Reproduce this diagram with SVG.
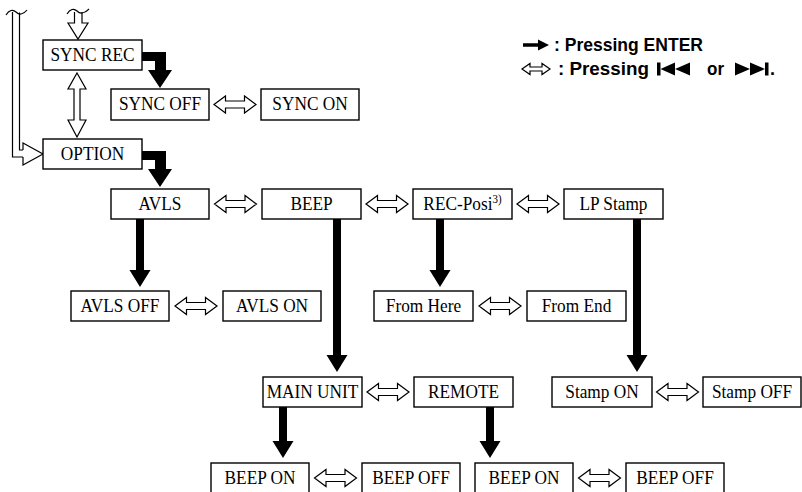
<svg xmlns="http://www.w3.org/2000/svg" xmlns:xlink="http://www.w3.org/1999/xlink" width="802" height="492" viewBox="0 0 802 492">
<style>
.box{fill:#fff;stroke:#000;stroke-width:1.4}
.lbl{font-family:"Liberation Serif","Times New Roman",serif;font-size:19px;text-anchor:middle;fill:#000}
.hol{fill:#fff;stroke:#000;stroke-width:1.2;stroke-linejoin:miter}
.line{fill:none;stroke:#000;stroke-width:1.2}
.blk{fill:#000;stroke:none}
.leg{font-family:"Liberation Sans",Arial,sans-serif;font-weight:bold;font-size:18px;fill:#000}
</style>
<defs>
<path id="dbl" class="hol" d="M-21,0 L-9.5,-8.5 V-3.5 H9.5 V-8.5 L21,0 L9.5,8.5 V3.5 H-9.5 V8.5 Z"/>
</defs>
<rect width="802" height="492" fill="#fff"/>

<g id="legend">
<polygon class="blk" points="523,43.3 538,43.3 538,39.5 549,45 538,50.5 538,46.7 523,46.7"/>
<text class="leg" x="554" y="51" textLength="149" lengthAdjust="spacingAndGlyphs">: Pressing ENTER</text>
<path class="hol" d="M522,69 L530,63.5 V67 H542 V63.5 L550,69 L542,74.5 V71 H530 V74.5 Z"/>
<text class="leg" x="558" y="75" textLength="91" lengthAdjust="spacingAndGlyphs">: Pressing</text>
<rect class="blk" x="657" y="62.5" width="3.5" height="13"/>
<polygon class="blk" points="660.5,69 675,62.5 675,75.5"/>
<polygon class="blk" points="675,69 690,62.5 690,75.5"/>
<text class="leg" x="707" y="75" textLength="17" lengthAdjust="spacingAndGlyphs">or</text>
<polygon class="blk" points="735,62.5 750,69 735,75.5"/>
<polygon class="blk" points="750,62.5 765,69 750,75.5"/>
<rect class="blk" x="765" y="62.5" width="3.5" height="13"/>
<text class="leg" x="770" y="75">.</text>
</g>

<g id="connectors">
<path class="line" d="M12.5,12 V157 H23"/>
<path class="line" d="M19.5,12.5 V150 H23"/>
<path class="line" d="M23,150 V143 L43,154 L23,165 V157"/>
<path class="line" d="M6,15 C9,10 13,9 16,12 C19,15 23,15 27,10"/>
<path class="hol" d="M74.5,12 V23 H68 L78,39 L88,23 H82 V12"/>
<path class="line" d="M67,14 C70,9 74,8 77,11 C80,14 84,14 89,9"/>
<polygon class="hol" points="77,73 86,89 80,89 80,120 86,120 77,137 68,120 74,120 74,89 68,89"/>
<polygon class="blk" points="142,52 166,52 166,70 172,70 160,88 148,70 155,70 155,61 142,61"/>
<polygon class="blk" points="142,151 166,151 166,169 172,169 160,187 148,169 155,169 155,160 142,160"/>
<polygon class="blk" points="136,219 144,219 144,270 150.5,270 140,287 129.5,270 136,270"/>
<polygon class="blk" points="436,219 444,219 444,270 450.5,270 440,287 429.5,270 436,270"/>
<polygon class="blk" points="333,219 341,219 341,355 347.5,355 337,372 326.5,355 333,355"/>
<polygon class="blk" points="633,219 641,219 641,355 647.5,355 637,372 626.5,355 633,355"/>
<polygon class="blk" points="279,407 287,407 287,441 293.5,441 283,458 272.5,441 279,441"/>
<polygon class="blk" points="486,407 494,407 494,441 500.5,441 490,458 479.5,441 486,441"/>
<use xlink:href="#dbl" x="235" y="104.5"/>
<use xlink:href="#dbl" x="235.5" y="204"/>
<use xlink:href="#dbl" x="387" y="204"/>
<use xlink:href="#dbl" x="538" y="204"/>
<use xlink:href="#dbl" x="196" y="306"/>
<use xlink:href="#dbl" x="500" y="306"/>
<use xlink:href="#dbl" x="388" y="392"/>
<use xlink:href="#dbl" x="677.5" y="392"/>
<use xlink:href="#dbl" x="335.5" y="478"/>
<use xlink:href="#dbl" x="599.5" y="478"/>
</g>

<g id="sync-rec"><rect class="box" x="43" y="40" width="99" height="30"/><text class="lbl" transform="translate(92.5,61) scale(0.91,1)">SYNC REC</text></g>
<g id="option"><rect class="box" x="43" y="139" width="99" height="30"/><text class="lbl" transform="translate(92.5,160) scale(0.91,1)">OPTION</text></g>
<g id="sync-off"><rect class="box" x="111" y="89" width="98" height="31"/><text class="lbl" transform="translate(160,110) scale(0.91,1)">SYNC OFF</text></g>
<g id="sync-on"><rect class="box" x="261" y="89" width="98" height="31"/><text class="lbl" transform="translate(310,110) scale(0.91,1)">SYNC ON</text></g>
<g id="avls"><rect class="box" x="111" y="189" width="98" height="30"/><text class="lbl" transform="translate(160,210) scale(0.91,1)">AVLS</text></g>
<g id="beep"><rect class="box" x="262" y="189" width="99" height="30"/><text class="lbl" transform="translate(311.5,210) scale(0.91,1)">BEEP</text></g>
<g id="rec-posi"><rect class="box" x="413" y="189" width="99" height="30"/><text class="lbl" transform="translate(462.5,210) scale(0.91,1)">REC-Posi<tspan font-size="12" dy="-7">3)</tspan></text></g>
<g id="lp-stamp"><rect class="box" x="564" y="189" width="99" height="30"/><text class="lbl" transform="translate(613.5,210) scale(0.91,1)">LP Stamp</text></g>
<g id="avls-off"><rect class="box" x="71" y="291" width="98" height="30"/><text class="lbl" transform="translate(120,312) scale(0.91,1)">AVLS OFF</text></g>
<g id="avls-on"><rect class="box" x="223" y="291" width="98" height="30"/><text class="lbl" transform="translate(272,312) scale(0.91,1)">AVLS ON</text></g>
<g id="from-here"><rect class="box" x="374" y="291" width="99" height="30"/><text class="lbl" transform="translate(423.5,312) scale(0.91,1)">From Here</text></g>
<g id="from-end"><rect class="box" x="527" y="291" width="99" height="30"/><text class="lbl" transform="translate(576.5,312) scale(0.91,1)">From End</text></g>
<g id="main-unit"><rect class="box" x="263" y="377" width="99" height="30"/><text class="lbl" transform="translate(312.5,398) scale(0.91,1)">MAIN UNIT</text></g>
<g id="remote"><rect class="box" x="414" y="377" width="99" height="30"/><text class="lbl" transform="translate(463.5,398) scale(0.91,1)">REMOTE</text></g>
<g id="stamp-on"><rect class="box" x="552" y="377" width="100" height="30"/><text class="lbl" transform="translate(602,398) scale(0.91,1)">Stamp ON</text></g>
<g id="stamp-off"><rect class="box" x="703" y="377" width="98" height="30"/><text class="lbl" transform="translate(752,398) scale(0.91,1)">Stamp OFF</text></g>
<g id="beep-on-main"><rect class="box" x="211" y="463" width="98" height="31"/><text class="lbl" transform="translate(260,484) scale(0.91,1)">BEEP ON</text></g>
<g id="beep-off-main"><rect class="box" x="362" y="463" width="98" height="31"/><text class="lbl" transform="translate(411,484) scale(0.91,1)">BEEP OFF</text></g>
<g id="beep-on-remote"><rect class="box" x="475" y="463" width="98" height="31"/><text class="lbl" transform="translate(524,484) scale(0.91,1)">BEEP ON</text></g>
<g id="beep-off-remote"><rect class="box" x="626" y="463" width="98" height="31"/><text class="lbl" transform="translate(675,484) scale(0.91,1)">BEEP OFF</text></g>
</svg>
